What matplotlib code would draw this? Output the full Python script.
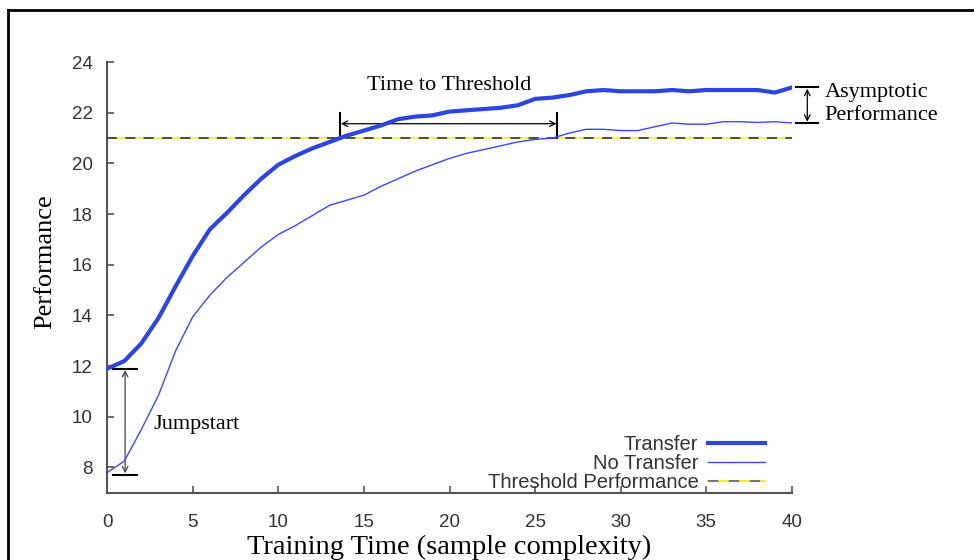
import matplotlib
matplotlib.use("Agg")
import matplotlib.pyplot as plt
from matplotlib.lines import Line2D

# Learning curves: performance vs training time, with and without transfer
training_time = list(range(0, 41))
transfer = [11.9, 12.2, 12.9, 13.9, 15.15, 16.35, 17.4, 18.05, 18.75, 19.4,
            19.95, 20.3, 20.6, 20.85, 21.1, 21.3, 21.5, 21.75, 21.85, 21.9,
            22.05, 22.1, 22.15, 22.2, 22.3, 22.55, 22.6, 22.7, 22.85, 22.9,
            22.85, 22.85, 22.85, 22.9, 22.85, 22.9, 22.9, 22.9, 22.9, 22.8,
            23.0]
no_transfer = [7.8, 8.25, 9.5, 10.85, 12.6, 13.95, 14.8, 15.5, 16.1, 16.7,
               17.2, 17.55, 17.95, 18.35, 18.55, 18.75, 19.1, 19.4, 19.7, 19.95,
               20.2, 20.4, 20.55, 20.7, 20.85, 20.95, 21.0, 21.2, 21.35, 21.35,
               21.3, 21.3, 21.45, 21.6, 21.55, 21.55, 21.65, 21.65, 21.62, 21.65,
               21.6]
threshold = 21.0

# where each curve first reaches the threshold
t_transfer = 13.6
t_no_transfer = 26.3

SANS = ["Liberation Sans", "DejaVu Sans"]
SERIF = ["Liberation Serif", "DejaVu Serif"]
AXIS_GRAY = "#555555"

fig = plt.figure(figsize=(9.74, 5.6), dpi=100)
ax = fig.add_axes([0.110, 0.120, 0.703, 0.769])

ax.plot(training_time, transfer, color="#2b45e0", lw=3.0, solid_capstyle="round", zorder=4)
ax.plot(training_time, no_transfer, color="#3a48ff", lw=1.0, zorder=4)
ax.axhline(threshold, color="#f2ee3a", lw=1.3, zorder=2)
ax.axhline(threshold, color="#333333", lw=1.2, dashes=(6, 5), zorder=3)

ax.set_xlim(0, 40)
ax.set_ylim(7, 24)
ax.set_xticks(range(0, 41, 5))
ax.set_yticks(range(8, 25, 2))

for side in ("top", "right"):
    ax.spines[side].set_visible(False)
for side in ("left", "bottom"):
    ax.spines[side].set_color(AXIS_GRAY)
    ax.spines[side].set_linewidth(1.5)
ax.tick_params(direction="in", length=5, width=1.2, color=AXIS_GRAY,
               labelcolor="#333333", labelsize=13.5)
ax.tick_params(axis="x", pad=15)
ax.tick_params(axis="y", pad=10.5)
for lab in ax.get_xticklabels() + ax.get_yticklabels():
    lab.set_family(SANS)

ax.set_xlabel("Training Time (sample complexity)", family=SERIF, fontsize=20.5, labelpad=3)
ax.set_ylabel("Performance", family=SERIF, fontsize=19)
ax.yaxis.set_label_coords(-0.0745, 0.536)

# time to threshold
bar_kw = dict(color="black", lw=1.5, clip_on=False)
ax.plot([t_transfer, t_transfer], [21.0, 22.0], **bar_kw)
ax.plot([t_no_transfer, t_no_transfer], [21.0, 22.0], **bar_kw)
ax.annotate("", xy=(t_transfer + 0.05, 21.57), xytext=(t_no_transfer - 0.05, 21.57),
            arrowprops=dict(arrowstyle="<->", color="black", lw=0.9, shrinkA=0, shrinkB=0))
ax.text((t_transfer + t_no_transfer) / 2, 22.7, "Time to Threshold",
        family=SERIF, fontsize=16, ha="center", va="bottom")

# asymptotic performance
ax.plot([40.25, 41.55], [transfer[-1], transfer[-1]], **bar_kw)
ax.plot([40.25, 41.55], [no_transfer[-1], no_transfer[-1]], **bar_kw)
ax.annotate("", xy=(40.9, transfer[-1] - 0.05), xytext=(40.9, no_transfer[-1] + 0.05),
            arrowprops=dict(arrowstyle="<->", color="black", lw=0.9, shrinkA=0, shrinkB=0),
            annotation_clip=False)
ax.text(41.9, (transfer[-1] + no_transfer[-1]) / 2 + 0.05, "Asymptotic\nPerformance",
        family=SERIF, fontsize=16, ha="left", va="center", linespacing=1.25, clip_on=False)

# jumpstart
ax.plot([0.35, 1.75], [transfer[0], transfer[0]], **bar_kw)
ax.plot([0.35, 1.75], [7.72, 7.72], **bar_kw)
ax.annotate("", xy=(1.05, transfer[0] - 0.05), xytext=(1.05, 7.77),
            arrowprops=dict(arrowstyle="<->", color="#444444", lw=0.9, shrinkA=0, shrinkB=0))
ax.text(2.7, 9.7, "Jumpstart", family=SERIF, fontsize=16, ha="left", va="center")

# legend: labels on the left, samples on the right
handles = [
    Line2D([], [], color="#2b45e0", lw=3.0),
    Line2D([], [], color="#3a48ff", lw=1.0),
    (Line2D([], [], color="#f2ee3a", lw=1.5),
     Line2D([], [], color="#777777", lw=1.5, dashes=(5, 5))),
]
leg = ax.legend(handles, ["Transfer", "No Transfer", "Threshold Performance"],
                loc="lower right", bbox_to_anchor=(0.987, -0.04), frameon=False,
                markerfirst=False, handlelength=2.8, handletextpad=0.5,
                labelspacing=0.0, prop=dict(family=SANS, size=14.5))
for txt in leg.get_texts():
    txt.set_color("#333333")

# outer frame line along the top and left edges
fig.add_artist(Line2D([8 / 974, 1.0], [1 - 10 / 560, 1 - 10 / 560], color="black", lw=2.0))
fig.add_artist(Line2D([8 / 974, 8 / 974], [0.0, 1 - 10 / 560], color="black", lw=2.0))

fig.savefig("out.png", dpi=100)
